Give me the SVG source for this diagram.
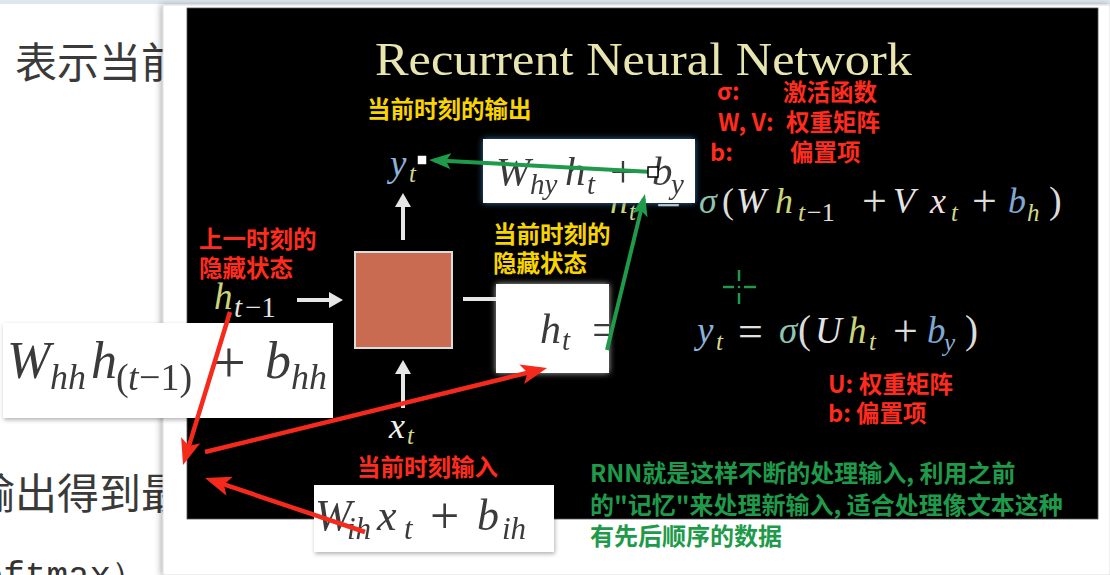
<svg xmlns="http://www.w3.org/2000/svg" width="1110" height="575" viewBox="0 0 1110 575">
<defs>
<style>
.cjk{font-family:"Noto Sans CJK SC",sans-serif;font-weight:bold;font-size:23.5px}
.bg{font-family:"Noto Sans CJK SC",sans-serif;font-size:42px;fill:#3a3a3a}
.red{fill:#ff2b1e}
.yel{fill:#f8d400}
.grn{fill:#1e9a4a}
.m{font-family:"Liberation Serif","Times New Roman",serif;font-style:italic}
.u{font-style:normal}
.bx{fill:#3a3a3a}
.wa{stroke:#e6e6e6;stroke-width:4;fill:none}
.ra{stroke:#f52a1c;stroke-width:4.5;fill:none}
.ga{stroke:#1e9a4a;stroke-width:4;fill:none}
.wb{fill:#fff}
</style>
<marker id="hw" viewBox="0 0 14 16" refX="10" refY="8" markerWidth="14" markerHeight="16" markerUnits="userSpaceOnUse" orient="auto"><path d="M0,0 L14,8 L0,16 z" fill="#e6e6e6"/></marker>
<marker id="hr" viewBox="0 0 26 20" refX="20" refY="10" markerWidth="26" markerHeight="20" markerUnits="userSpaceOnUse" orient="auto"><path d="M0,0 L26,10 L0,20 L6,10 z" fill="#f52a1c"/></marker>
<marker id="hg" viewBox="0 0 22 16" refX="17" refY="8" markerWidth="22" markerHeight="16" markerUnits="userSpaceOnUse" orient="auto"><path d="M0,0 L22,8 L0,16 L5,8 z" fill="#1e9a4a"/></marker>
<filter id="glowB" x="-10%" y="-20%" width="120%" height="140%"><feDropShadow dx="0" dy="0" stdDeviation="3" flood-color="#3a7ab8" flood-opacity="0.9"/></filter>
<filter id="glowW" x="-10%" y="-10%" width="120%" height="120%"><feDropShadow dx="0" dy="0" stdDeviation="3" flood-color="#ffffff" flood-opacity="0.7"/></filter>
<filter id="sh" x="-10%" y="-10%" width="120%" height="130%"><feDropShadow dx="1" dy="2" stdDeviation="2" flood-color="#000" flood-opacity="0.3"/></filter>
<filter id="psh" x="-5%" y="-5%" width="110%" height="110%"><feDropShadow dx="-2" dy="0" stdDeviation="3" flood-color="#000" flood-opacity="0.3"/></filter>
<filter id="soft"><feGaussianBlur stdDeviation="0.5"/></filter>
<clipPath id="cHt"><rect x="496" y="284" width="113" height="89"/></clipPath>
</defs>

<!-- page background -->
<rect width="1110" height="575" fill="#fff"/>
<rect width="1110" height="4" fill="#dde7f0"/>
<text class="bg" x="15" y="78">表示当前</text>
<text class="bg" x="-27" y="509">输出得到最</text>
<text x="-40" y="587" font-family="Liberation Mono,monospace" font-size="36" fill="#333">softmax）</text>

<!-- overlay panel -->
<rect x="163" y="5" width="947" height="570" fill="#fff" stroke="#d4d4d4" stroke-width="0.8" filter="url(#psh)"/>
<rect x="187" y="8" width="911" height="511" fill="#000" stroke="#555" stroke-width="0.8"/>

<text x="375" y="75" font-family="Liberation Serif,serif" font-size="46" fill="#e8e6ae" textLength="537" lengthAdjust="spacingAndGlyphs">Recurrent Neural Network</text>

<g id="legend-top">
<text class="cjk red" x="717" y="100">σ:</text>
<text class="cjk red" x="783" y="101">激活函数</text>
<text class="cjk red" x="718" y="131">W, V:</text>
<text class="cjk red" x="786" y="131">权重矩阵</text>
<text class="cjk red" x="710" y="161">b:</text>
<text class="cjk red" x="790" y="161">偏置项</text>
</g>

<g id="eq-h">
<text class="m" font-size="36">
<tspan x="610" y="213" fill="#c8d678">h</tspan><tspan x="629" y="220" font-size="25" fill="#d2d88a">t</tspan>
<tspan class="u" x="656" y="215" font-size="44" fill="#dcdcdc">=</tspan>
<tspan x="699" y="213" fill="#8fc6b2">σ</tspan><tspan class="u" x="722" y="213" fill="#dcdcdc">(</tspan>
<tspan x="736" y="213" fill="#e4e4e4">W</tspan><tspan x="775" y="213" fill="#c8d678">h</tspan>
<tspan x="798" y="221" font-size="26" fill="#d2d88a">t</tspan><tspan class="u" x="807" y="221" font-size="26" fill="#e0e0e0">−1</tspan>
<tspan class="u" x="862" y="216" font-size="44" fill="#dcdcdc">+</tspan>
<tspan x="893" y="213" fill="#e4e4e4">V</tspan><tspan x="930" y="213" fill="#f2dede">x</tspan><tspan x="951" y="221" font-size="25" fill="#d2d88a">t</tspan>
<tspan class="u" x="972" y="216" font-size="44" fill="#dcdcdc">+</tspan>
<tspan x="1008" y="213" fill="#7fa9d4">b</tspan><tspan x="1027" y="221" font-size="25" fill="#d2d88a">h</tspan>
<tspan class="u" x="1049" y="213" font-size="38" fill="#dcdcdc">)</tspan>
</text>
</g>

<g id="eq-y">
<text class="m" font-size="37">
<tspan x="697" y="343" fill="#8ab2da">y</tspan><tspan x="716" y="350" font-size="25" fill="#d6da8c">t</tspan>
<tspan class="u" x="738" y="346" font-size="44" fill="#e0e0e0">=</tspan>
<tspan x="779" y="343" fill="#8fc6b2">σ</tspan><tspan class="u" x="798" y="343" font-size="39" fill="#dcdcdc">(</tspan>
<tspan x="815" y="343" fill="#e4e4e4">U</tspan><tspan x="848" y="343" fill="#c8d678">h</tspan><tspan x="869" y="350" font-size="25" fill="#d6da8c">t</tspan>
<tspan class="u" x="893" y="346" font-size="44" fill="#dcdcdc">+</tspan>
<tspan x="927" y="343" fill="#7fa9d4">b</tspan><tspan x="944" y="351" font-size="25" fill="#8ab2da">y</tspan>
<tspan class="u" x="965" y="343" font-size="39" fill="#dcdcdc">)</tspan>
</text>
</g>

<g id="crosshair" stroke="#1e9a4a" stroke-width="2.5">
<line x1="723" y1="287" x2="734" y2="287"/><line x1="744" y1="287" x2="756" y2="287"/>
<line x1="739" y1="270" x2="739" y2="281"/><line x1="739" y1="293" x2="739" y2="304"/>
<circle cx="739" cy="287" r="1.3" fill="#1e9a4a" stroke="none"/>
</g>

<g id="legend-y">
<text class="cjk red" x="828" y="393">U:</text><text class="cjk red" x="859" y="393">权重矩阵</text>
<text class="cjk red" x="828" y="422">b:</text><text class="cjk red" x="856" y="422">偏置项</text>
</g>

<g id="label-output"><text class="cjk yel" x="367" y="118">当前时刻的输出</text></g>
<g id="label-prev"><text class="cjk red" x="199" y="248">上一时刻的</text><text class="cjk red" x="199" y="277">隐藏状态</text></g>
<g id="label-cur"><text class="cjk yel" x="493" y="243">当前时刻的</text><text class="cjk yel" x="493" y="272">隐藏状态</text></g>
<g id="label-input"><text class="cjk red" x="357" y="476">当前时刻输入</text></g>

<g id="node-yt"><text class="m" font-size="37"><tspan x="390" y="176" fill="#8ab2da">y</tspan><tspan x="409" y="182" font-size="25" fill="#d2d88a">t</tspan></text></g>
<g id="node-htm1"><text class="m" font-size="37"><tspan x="214" y="309" fill="#c8d678">h</tspan><tspan x="234" y="317" font-size="29" fill="#e4e4e4">t</tspan><tspan class="u" x="245" y="317" font-size="29" fill="#e4e4e4">−1</tspan></text></g>
<g id="node-xt"><text class="m" font-size="36"><tspan x="389" y="438" fill="#f0f0f0">x</tspan><tspan x="407" y="444" font-size="25" fill="#d2d88a">t</tspan></text></g>
<g id="node-cell"><rect x="355" y="252" width="97" height="96" fill="#c96b50" stroke="#dcdcdc" stroke-width="2"/></g>

<g id="box-why">
<rect x="483" y="139" width="212" height="64" class="wb" filter="url(#glowB)"/>
<text class="m bx" font-size="41" filter="url(#soft)"><tspan x="496" y="185">W</tspan><tspan x="530" y="194" font-size="29">hy</tspan><tspan x="565" y="185">h</tspan><tspan x="587" y="194" font-size="29">t</tspan><tspan class="u" x="610" y="187" font-size="46">+</tspan><tspan x="652" y="185">b</tspan><tspan x="671" y="194" font-size="29">y</tspan></text>
</g>

<g id="box-ht">
<rect x="496" y="284" width="113" height="89" class="wb" filter="url(#glowW)"/>
<text class="m bx" font-size="42" clip-path="url(#cHt)" filter="url(#soft)"><tspan x="540" y="343">h</tspan><tspan x="562" y="350" font-size="29">t</tspan><tspan class="u" x="592" y="345" font-size="46">=</tspan></text>
</g>

<g id="box-whh">
<rect x="3" y="323" width="330" height="95" class="wb" filter="url(#sh)"/>
<text class="m bx" font-size="52" filter="url(#soft)"><tspan x="7" y="378">W</tspan><tspan x="50" y="389" font-size="36">hh</tspan><tspan x="91" y="378">h</tspan><tspan class="u" x="116" y="390" font-size="38">(</tspan><tspan x="128" y="390" font-size="38">t</tspan><tspan class="u" x="139" y="390" font-size="38">−1)</tspan><tspan class="u" x="212" y="382" font-size="60">+</tspan><tspan x="265" y="378">b</tspan><tspan x="291" y="389" font-size="36">hh</tspan></text>
</g>

<g id="box-wih">
<rect x="314" y="485" width="240" height="67" class="wb" filter="url(#sh)"/>
<text class="m bx" font-size="44" filter="url(#soft)"><tspan x="315" y="530">W</tspan><tspan x="347" y="539" font-size="31">ih</tspan><tspan x="377" y="530">x</tspan><tspan x="404" y="539" font-size="31">t</tspan><tspan class="u" x="430" y="533" font-size="52">+</tspan><tspan x="477" y="530">b</tspan><tspan x="502" y="539" font-size="31">ih</tspan></text>
</g>

<g id="note">
<text class="cjk grn" x="590" y="482" style="font-size:24px">RNN就是这样不断的处理输入, 利用之前</text>
<text class="cjk grn" x="590" y="514" style="font-size:24px">的"记忆"来处理新输入, 适合处理像文本这种</text>
<text class="cjk grn" x="590" y="545" style="font-size:24px">有先后顺序的数据</text>
</g>

<g id="connectors">
<path class="wa" d="M297,300 L339,300" marker-end="url(#hw)"/>
<path class="wa" d="M403,240 L403,197" marker-end="url(#hw)"/>
<path class="wa" d="M403,408 L403,364" marker-end="url(#hw)"/>
<path class="wa" d="M463,299 L496,299"/>
<path class="ga" d="M653,172 L434,160.3" marker-end="url(#hg)"/>
<path class="ga" d="M607,350 L643.8,198.9" marker-end="url(#hg)"/>
<path class="ra" d="M230,312 L184.8,459.3" marker-end="url(#hr)"/>
<path class="ra" d="M205,452 L541.2,369.4" marker-end="url(#hr)"/>
<path class="ra" d="M365,532 L210.7,479.9" marker-end="url(#hr)"/>
</g>

<g id="handles" fill="#fff" stroke="#000" stroke-width="1.5">
<rect x="417" y="155" width="10" height="10"/>
<rect x="648" y="167" width="10" height="10"/>
</g>
</svg>
